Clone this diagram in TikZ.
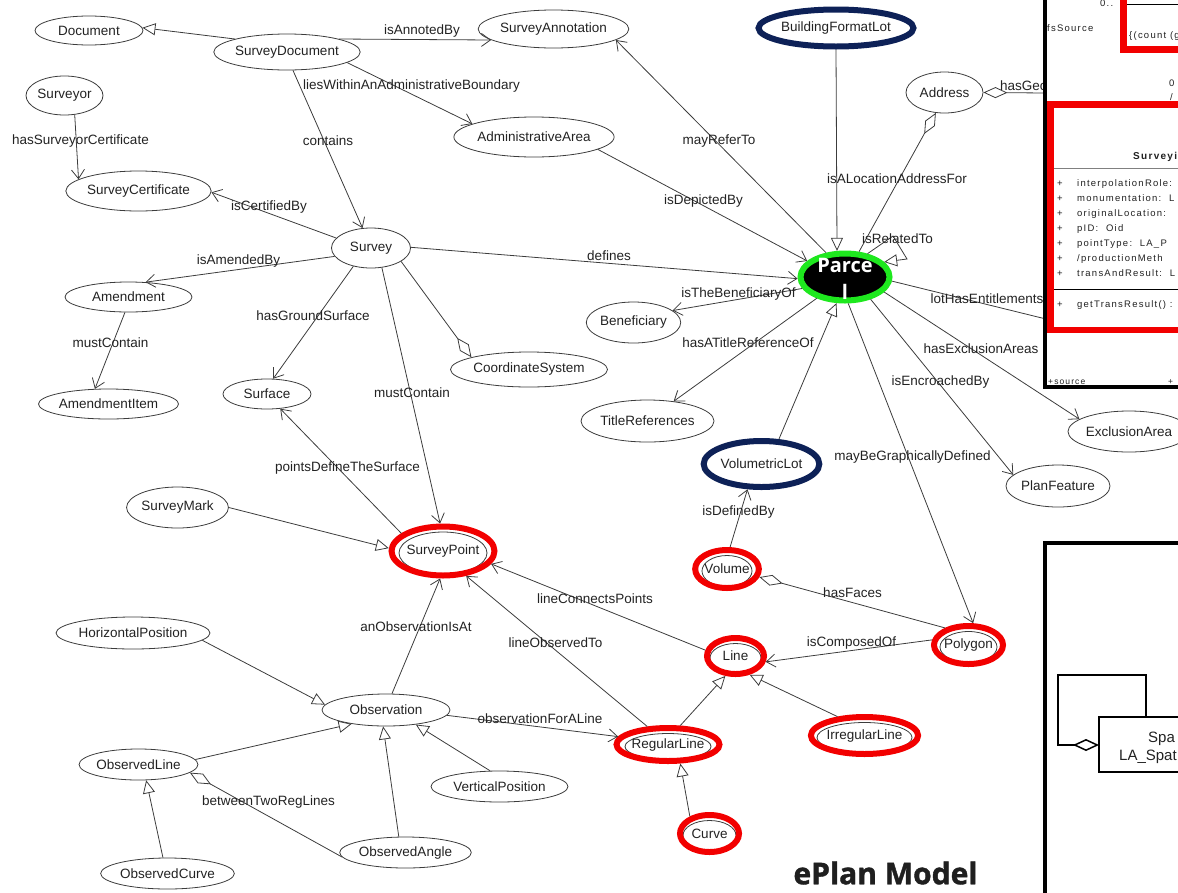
\documentclass[tikz,border=0pt]{standalone}
\usepackage{fontspec}
\setmainfont{Liberation Sans}
\newfontfamily\opensans{Open Sans}
\newfontfamily\heavyfont[FakeBold=1.3,BoldFeatures={FakeBold=1.3}]{Open Sans}
\newfontfamily\umlfont[LetterSpace=13]{Liberation Sans}
\usetikzlibrary{shapes.geometric,arrows.meta}
\pgfdeclarelayer{bg}
\pgfsetlayers{bg,main}
\definecolor{edgec}{HTML}{3C3C3C}
\definecolor{txtc}{HTML}{222222}
\definecolor{navyc}{HTML}{0D2157}
\definecolor{greenc}{HTML}{1EE81E}
\definecolor{redc}{HTML}{F20000}
\tikzset{
  cls/.style={ellipse, draw=edgec, line width=0.8pt, inner sep=0pt, text=txtc, font=\fontsize{13.5}{16}\selectfont},
  hl/.style={cls, draw=redc, line width=6pt},
  nv/.style={cls, draw=navyc, line width=6pt},
  innerell/.style={draw=edgec, line width=0.8pt},
  assoc/.style={draw=edgec, line width=0.8pt, -{Straight Barb[length=9pt,width=13pt]}},
  gen/.style={draw=edgec, line width=0.8pt, -{Triangle[length=13pt,width=12pt,fill=white]}},
  agg/.style={draw=edgec, line width=0.8pt, {Diamond[length=24pt,width=11pt,fill=white]}-},
  plainedge/.style={draw=edgec, line width=0.8pt},
  lbl/.style={inner sep=0pt, text=txtc, font=\fontsize{13.5}{16}\selectfont},
  uml/.style={inner sep=0pt, anchor=base west, text=txtc, font=\umlfont\fontsize{9.5}{11}\selectfont},
  umlbox/.style={draw=black, line width=3.5pt, fill=white},
  redbox/.style={draw=redc, line width=6.5pt},
}
\begin{document}
\begin{tikzpicture}[x=1pt,y=-1pt]
\useasboundingbox (0,0) rectangle (1178,892);
\clip (0,0) rectangle (1178,892);

% ---------- nodes ----------
\node[cls, minimum width=108, minimum height=29] (doc) at (89,30.5) {Document};
\node[cls, minimum width=128, minimum height=36] (sdoc) at (287,52) {SurveyDocument};
\node[cls, minimum width=127, minimum height=38] (sann) at (553.5,29) {SurveyAnnotation};
\node[cls, minimum width=77, minimum height=39] (surveyor) at (64.5,95.5) {Surveyor};
\node[cls, minimum width=129, minimum height=40] (scert) at (138.5,191) {SurveyCertificate};
\node[cls, minimum width=126, minimum height=40] (adm) at (534,137) {AdministrativeArea};
\node[cls, minimum width=79, minimum height=40] (survey) at (371,248) {Survey};
\node[cls, minimum width=127, minimum height=30] (amend) at (128.5,297) {Amendment};
\node[cls, minimum width=127, minimum height=30] (aitem) at (108.5,404) {AmendmentItem};
\node[cls, minimum width=88, minimum height=30] (surface) at (267,394) {Surface};
\node[cls, minimum width=136, minimum height=35] (cs) at (529,369.5) {CoordinateSystem};
\node[cls, minimum width=91, minimum height=41] (ben) at (633.5,322.5) {Beneficiary};
\node[cls, minimum width=119, minimum height=42] (tref) at (647.5,421) {TitleReferences};
\node[cls, minimum width=112, minimum height=41] (ea) at (1129,431.5) {ExclusionArea};
\node[cls, minimum width=88, minimum height=42] (pf) at (1058,486) {PlanFeature};
\node[cls, minimum width=87, minimum height=41] (smark) at (177.5,507.5) {SurveyMark};
\node[cls, minimum width=77, minimum height=41] (addr) at (944.5,92.5) {Address};
\node[cls, minimum width=138, minimum height=32] (hp) at (133,633) {HorizontalPosition};
\node[cls, minimum width=128, minimum height=32] (obs) at (386,710) {Observation};
\node[cls, minimum width=109, minimum height=31] (ol) at (138.5,764.5) {ObservedLine};
\node[cls, minimum width=127, minimum height=31] (oc) at (167.5,873.5) {ObservedCurve};
\node[cls, minimum width=127, minimum height=31] (oa) at (405.5,852.5) {ObservedAngle};
\node[cls, minimum width=137, minimum height=31] (vp) at (499.5,786.5) {VerticalPosition};

\node[nv, minimum width=132, minimum height=37] (bfl) at (836,28) {BuildingFormatLot};
\node[nv, minimum width=111, minimum height=46] (vl) at (761.5,464) {VolumetricLot};

\node[ellipse, draw=greenc, fill=black, line width=6pt, inner sep=0pt, minimum width=89, minimum height=47] (parcel) at (845,277) {};
\node[inner sep=0pt, anchor=base, text=white, font=\opensans\bfseries\fontsize{20}{24}\selectfont] (ptxt1) at (845,272) {Parce};
\node[inner sep=0pt, anchor=base, text=white, font=\opensans\bfseries\fontsize{20}{24}\selectfont] (ptxt2) at (845,299) {l};

\node[hl, minimum width=94, minimum height=49] (sp) at (443,551) {SurveyPoint};
\node[hl, minimum width=56, minimum height=38] (vol) at (727,569) {Volume};
\node[hl, minimum width=57, minimum height=36] (line) at (735.5,656) {Line};
\node[hl, minimum width=92, minimum height=33] (rl) at (668,744.5) {RegularLine};
\node[hl, minimum width=59, minimum height=37] (curve) at (709.5,833.5) {Curve};
\node[hl, minimum width=63, minimum height=38] (poly) at (968.5,645) {Polygon};
\node[hl, minimum width=101, minimum height=37] (il) at (864.5,735.5) {IrregularLine};

\begin{pgfonlayer}{bg}
\draw[innerell] ([yshift=-2pt]sp.center) ellipse [x radius=44, y radius=21];
\draw[innerell] ([yshift=-2pt]vol.center) ellipse [x radius=25, y radius=15.5];
\draw[innerell] ([yshift=-2pt]line.center) ellipse [x radius=25.5, y radius=14.5];
\draw[innerell] ([yshift=-2pt]rl.center) ellipse [x radius=43, y radius=13];
\draw[innerell] ([yshift=-2pt]curve.center) ellipse [x radius=26.5, y radius=15];
\draw[innerell] ([yshift=-2pt]poly.center) ellipse [x radius=28.5, y radius=15.5];
\draw[innerell] ([yshift=-2pt]il.center) ellipse [x radius=47.5, y radius=15];
\end{pgfonlayer}

\coordinate (rt1) at (893,236);
\coordinate (rt2) at (907,259);
\coordinate (entpt) at (1046,319);
\coordinate (geopt) at (1046,93);

% ---------- connectors ----------
\draw[gen] (sdoc.166) -- (doc.3);
\draw[assoc] (sdoc.14) -- (sann.190);
\draw[assoc] (sdoc.-10) -- (adm.168);
\draw[assoc] (sdoc.-72) -- (survey.113);
\draw[assoc] (surveyor.-62) -- (scert.169);
\draw[assoc] (survey.164) -- (scert.-1);
\draw[assoc] (survey.193) -- (amend.41);
\draw[assoc] (amend.-103) -- (aitem.132);
\draw[assoc] (survey.226) -- (surface.68);
\draw[assoc] (survey.-61) -- (sp.96);
\draw[agg] (cs.168) -- (survey.-24);
\draw[assoc] (survey.1) -- (parcel.182);
\draw[assoc] (parcel.128) -- (sann.-10);
\draw[assoc] (adm.-11) -- (parcel.157);
\draw[gen] (bfl.south) -- (parcel.107);
\draw[agg] (addr.247) -- (parcel.61);
\draw[gen] (parcel.46) -- (rt1) -- (rt2) -- (parcel.21);
\draw[assoc] (parcel.195) -- (ben.17);
\draw[assoc] (parcel.217) -- (tref.37);
\draw[gen] (vl.55) -- (parcel.252);
\draw[plainedge] (parcel.-5) -- (entpt);
\draw[assoc] (parcel.-21) -- (ea.166);
\draw[assoc] (parcel.-41) -- (pf.166);
\draw[assoc] (parcel.-83) -- (poly.78);
\draw[assoc] (sp.157) -- (surface.-48);
\draw[gen] (smark.0) -- (sp.177);
\draw[assoc] (vol.82) -- (vl.241);
\draw[agg] (vol.-14) -- (poly.144);
\draw[assoc] (poly.172) -- (line.-11);
\draw[assoc] (line.169) -- (sp.-15);
\draw[assoc] (rl.139) -- (sp.-47);
\draw[assoc] (obs.70) -- (sp.264);
\draw[gen] (hp.-6) -- (obs.175);
\draw[assoc] (obs.-5) -- (rl.171);
\draw[gen] (rl.57) -- (line.243);
\draw[gen] (il.145) -- (line.-53);
\draw[gen] (curve.139) -- (rl.-57);
\draw[gen] (ol.5) -- (obs.202);
\draw[gen] (vp.121) -- (obs.-26);
\draw[gen] (oa.113) -- (obs.260);
\draw[agg] (ol.-9) -- (oa.184);
\draw[gen] (oc.106) -- (ol.-64);
\draw[agg] (addr.0) -- (geopt);

% ---------- labels ----------
\node[lbl] (l1) at (422,31) {isAnnotedBy};
\node[lbl] (l2) at (411.5,86) {liesWithinAnAdministrativeBoundary};
\node[lbl] (l3) at (328,141) {contains};
\node[lbl] (l4) at (80.5,141) {hasSurveyorCertificate};
\node[lbl] (l5) at (269,207) {isCertifiedBy};
\node[lbl] (l6) at (238.5,261) {isAmendedBy};
\node[lbl] (l7) at (110.5,343) {mustContain};
\node[lbl] (l8) at (313,316) {hasGroundSurface};
\node[lbl] (l9) at (412,393) {mustContain};
\node[lbl] (l10) at (347.5,468) {pointsDefineTheSurface};
\node[lbl] (l11) at (609,256) {defines};
\node[lbl] (l12) at (719,141) {mayReferTo};
\node[lbl] (l13) at (703.5,201) {isDepictedBy};
\node[lbl] (l14) at (897,179) {isALocationAddressFor};
\node[lbl] (l15) at (897.5,239) {isRelatedTo};
\node[lbl] (l16) at (738.5,294) {isTheBeneficiaryOf};
\node[lbl] (l17) at (748,343) {hasATitleReferenceOf};
\node[lbl] (l18) at (987,299) {lotHasEntitlements};
\node[lbl] (l19) at (981,349) {hasExclusionAreas};
\node[lbl] (l20) at (940.5,382) {isEncroachedBy};
\node[lbl] (l21) at (912.5,457) {mayBeGraphicallyDefined};
\node[lbl] (l22) at (738.5,512) {isDefinedBy};
\node[lbl] (l23) at (852.5,593) {hasFaces};
\node[lbl] (l24) at (851.5,643) {isComposedOf};
\node[lbl] (l25) at (595,599) {lineConnectsPoints};
\node[lbl] (l26) at (555.5,643) {lineObservedTo};
\node[lbl] (l27) at (416,627) {anObservationIsAt};
\node[lbl] (l28) at (540,719) {observationForALine};
\node[lbl] (l29) at (268.5,802) {betweenTwoRegLines};
\node[lbl, anchor=west] (l30) at (1000,86) {hasGeo};

% ---------- title ----------
\node[inner sep=0pt, text=black!88, font=\heavyfont\bfseries\fontsize{30}{34}\selectfont] (title) at (885.5,873) {ePlan Model};

% ---------- UML fragment, top right ----------
\draw[umlbox] (1045,-10) rectangle (1200,387);
\draw[redbox] (1123.5,-10) rectangle (1200,49.5);
\draw[black, line width=0.6pt] (1127,4) -- (1200,4);
\node[uml] (u0) at (1100,6) {0..};
\node[uml] (u1) at (1047,31) {fsSource};
\node[uml] (u2) at (1129,38) {\{(count (g};
\node[uml] (u3) at (1169,86) {0};
\node[uml] (u4) at (1170,100) {/};
\draw[redbox] (1050.5,104.5) rectangle (1200,330);
\node[uml, font=\umlfont\bfseries\fontsize{10}{12}\selectfont] (ttl) at (1133,159) {Surveyi};
\draw[gray, line width=0.6pt] (1054,168) -- (1200,168);
\node[uml] (p1) at (1057,186) {+};
\node[uml] (a1) at (1077,186) {interpolationRole:};
\node[uml] (p2) at (1057,201) {+};
\node[uml] (a2) at (1077,201) {monumentation:\ \ L};
\node[uml] (p3) at (1057,216) {+};
\node[uml] (a3) at (1077,216) {originalLocation:};
\node[uml] (p4) at (1057,231) {+};
\node[uml] (a4) at (1077,231) {pID:\ \ Oid};
\node[uml] (p5) at (1057,246) {+};
\node[uml] (a5) at (1077,246) {pointType:\ \ LA\_P};
\node[uml] (p6) at (1057,261) {+};
\node[uml] (a6) at (1077,261) {/productionMeth};
\node[uml] (p7) at (1057,276) {+};
\node[uml] (a7) at (1077,276) {transAndResult:\ \ L};
\draw[black, line width=0.6pt] (1054,289) -- (1200,289);
\node[uml] (p8) at (1057,307) {+};
\node[uml] (a8) at (1077,307) {getTransResult() :};
\node[uml, font=\umlfont\fontsize{8.5}{10}\selectfont] (src) at (1048,384) {+source};
\node[uml, font=\umlfont\fontsize{8.5}{10}\selectfont] (src2) at (1168,384) {+};

% ---------- UML fragment, bottom right ----------
\draw[umlbox] (1045,543) rectangle (1200,900);
\draw[black, line width=2pt] (1099,717) rectangle (1200,772);
\draw[black, line width=2pt, -{Diamond[length=26pt,width=12pt,fill=white,line width=1.5pt]}] (1146,717) -- (1146,675) -- (1058,675) -- (1058,745) -- (1099,745);
\node[inner sep=0pt, anchor=base west, text=txtc, font=\fontsize{15}{18}\selectfont] (su1) at (1148,742) {Spa};
\node[inner sep=0pt, anchor=base west, text=txtc, font=\fontsize{15}{18}\selectfont] (su2) at (1119,760) {LA\_Spat};
\end{tikzpicture}
\end{document}
